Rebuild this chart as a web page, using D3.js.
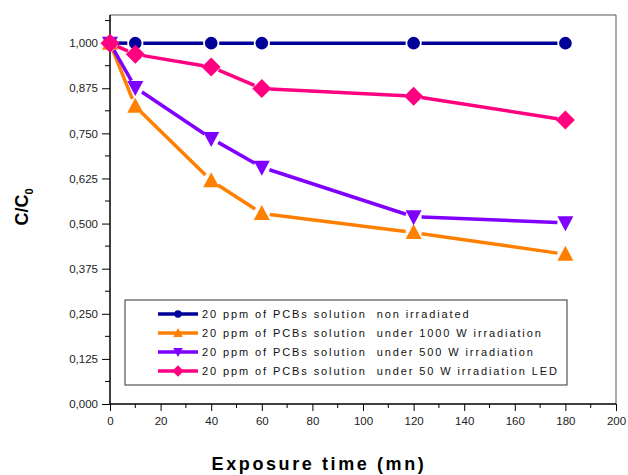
<!DOCTYPE html>
<html><head><meta charset="utf-8">
<script src="https://cdn.jsdelivr.net/npm/d3@7"></script>
<style>body{margin:0;background:#fff;} text{font-family:"Liberation Sans",Arial,sans-serif;}</style>
</head><body>
<svg id="c" width="628" height="475"></svg>
<script>
const times = [0, 10, 40, 60, 120, 180];
const nonIrradiated = [1.000, 1.000, 1.000, 1.000, 1.000, 1.000];
const w1000 = [1.000, 0.825, 0.619, 0.528, 0.475, 0.415];
const w500 = [1.000, 0.877, 0.736, 0.656, 0.519, 0.502];
const w50LED = [1.000, 0.969, 0.934, 0.874, 0.853, 0.787];
const seriesNames = [
  "20 ppm of PCBs solution  non irradiated",
  "20 ppm of PCBs solution  under 1000 W irradiation",
  "20 ppm of PCBs solution  under 500 W irradiation",
  "20 ppm of PCBs solution  under 50 W irradiation LED"
];
const seriesColors = ["#000099", "#FF8000", "#8000FF", "#FF0080"];
const seriesMarkers = ["circle", "triUp", "triDown", "diamond"];
const xTicks = [0, 20, 40, 60, 80, 100, 120, 140, 160, 180, 200];
const yTicks = [0, 0.125, 0.25, 0.375, 0.5, 0.625, 0.75, 0.875, 1.0];

const seriesValues = [nonIrradiated, w1000, w500, w50LED];

const svg = d3.select("#c");
const L = 110, R = 616, T = 15, B = 404;
const x = d3.scaleLinear().domain([0, 200]).range([L, R]);
const y = d3.scaleLinear().domain([0, 1.078]).range([B, T]);

function markerPath(type) {
  switch (type) {
    case "circle": return d3.symbol(d3.symbolCircle, 125)();
    case "triUp": return "M0,-8.5L8,6.5L-8,6.5Z";
    case "triDown": return "M0,8.5L8,-6.5L-8,-6.5Z";
    case "diamond": return "M0,-9.5L9.5,0L0,9.5L-9.5,0Z";
  }
}

// frame
svg.append("line").attr("x1", L).attr("x2", R).attr("y1", T).attr("y2", T).attr("stroke", "#555").attr("stroke-width", 1);
svg.append("line").attr("x1", R).attr("x2", R).attr("y1", T).attr("y2", B).attr("stroke", "#555").attr("stroke-width", 1);

// axes
const yAxis = d3.axisLeft(y).tickValues(yTicks).tickSize(8).tickPadding(4)
  .tickFormat(d => d3.format(".3f")(d).replace(".", ","));
const gy = svg.append("g").attr("transform", `translate(${L},0)`).call(yAxis);
const yMinor = d3.range(0.0625, 1.07, 0.125);
gy.selectAll(".minor").data(yMinor).enter().append("line")
  .attr("x1", -5).attr("x2", 0).attr("y1", d => y(d)).attr("y2", d => y(d)).attr("stroke", "#000");

const xAxis = d3.axisBottom(x).tickValues(xTicks).tickSize(7).tickPadding(6).tickFormat(d3.format("d"));
const gx = svg.append("g").attr("transform", `translate(0,${B})`).call(xAxis);
const xMinor = d3.range(10, 200, 20);
gx.selectAll(".minor").data(xMinor).enter().append("line")
  .attr("x1", d => x(d)).attr("x2", d => x(d)).attr("y1", 0).attr("y2", 4).attr("stroke", "#000");

[gx, gy].forEach(g => {
  g.select(".domain").attr("stroke", "#000").attr("stroke-width", 1.5);
  g.selectAll(".tick line").attr("stroke", "#000");
  g.selectAll(".tick text").attr("font-size", 11.5).attr("fill", "#222")
    .style("font-family", "'Liberation Sans', Arial, sans-serif");
});
gx.select(".domain").attr("d", `M${L},0H${R}`);
gy.select(".domain").attr("d", `M0,${B}V${T}`);

// titles
svg.append("text").attr("x", 319).attr("y", 470).attr("text-anchor", "middle")
  .attr("font-size", 18).attr("font-weight", "bold").attr("letter-spacing", 2.6).text("Exposure time (mn)");
const yt = svg.append("text").attr("transform", "translate(28,207) rotate(-90)").attr("text-anchor", "middle")
  .attr("font-size", 18).attr("font-weight", "bold");
yt.append("tspan").text("C/C");
yt.append("tspan").attr("font-size", 11).attr("dy", 5).text("0");

// series
const gap = 8;
seriesValues.forEach((vals, si) => {
  const pts = times.map((t, i) => [x(t), y(vals[i])]);
  const g = svg.append("g");
  for (let i = 0; i < pts.length - 1; i++) {
    const [x1, y1] = pts[i], [x2, y2] = pts[i + 1];
    const dx = x2 - x1, dy = y2 - y1, len = Math.hypot(dx, dy);
    if (len <= 2 * gap) continue;
    const ux = dx / len, uy = dy / len;
    g.append("line").attr("x1", x1 + ux * gap).attr("y1", y1 + uy * gap)
      .attr("x2", x2 - ux * gap).attr("y2", y2 - uy * gap)
      .attr("stroke", seriesColors[si]).attr("stroke-width", 3.5);
  }
  g.selectAll("path.m").data(pts).enter().append("path").attr("class", "m")
    .attr("transform", d => `translate(${d[0]},${d[1]})`)
    .attr("d", markerPath(seriesMarkers[si])).attr("fill", seriesColors[si]);
});

// legend
const lg = svg.append("g");
lg.append("rect").attr("x", 125).attr("y", 300).attr("width", 442).attr("height", 85)
  .attr("fill", "#fff").attr("stroke", "#333").attr("stroke-width", 1);
seriesNames.forEach((name, i) => {
  const cy = 314 + i * 19;
  lg.append("line").attr("x1", 158).attr("x2", 198).attr("y1", cy).attr("y2", cy)
    .attr("stroke", seriesColors[i]).attr("stroke-width", 3.5);
  lg.append("path").attr("transform", `translate(178,${cy}) scale(0.6)`)
    .attr("d", markerPath(seriesMarkers[i])).attr("fill", seriesColors[i]);
  lg.append("text").attr("x", 202).attr("y", cy + 4).attr("font-size", 11)
    .attr("letter-spacing", 1.9).attr("fill", "#111").attr("xml:space", "preserve").text(name);
});
</script>
</body></html>
